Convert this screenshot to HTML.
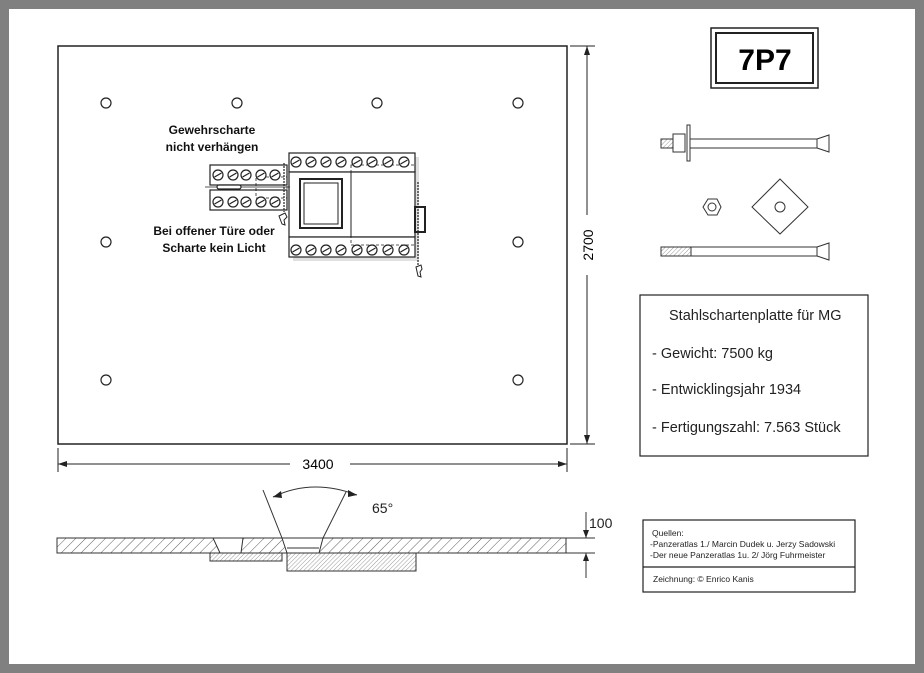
<!DOCTYPE html>
<html><head><meta charset="utf-8"><style>
body{margin:0;width:924px;height:673px;overflow:hidden;background:#808080;}
svg{display:block}
text{font-family:"Liberation Sans",sans-serif;}
</style></head><body>
<svg width="924" height="673" viewBox="0 0 924 673" xmlns="http://www.w3.org/2000/svg">
<defs>
<pattern id="h" width="7" height="7" patternUnits="userSpaceOnUse" patternTransform="rotate(45)">
<line x1="0" y1="0" x2="0" y2="7" stroke="#333" stroke-width="0.8"/></pattern>
<pattern id="h2" width="3" height="3" patternUnits="userSpaceOnUse" patternTransform="rotate(45)">
<line x1="0" y1="0" x2="0" y2="3" stroke="#555" stroke-width="0.6"/></pattern>
<g id="s"><circle r="5" fill="#fff" stroke="#222" stroke-width="1.2"/><line x1="-3.5" y1="2" x2="3.5" y2="-2" stroke="#222" stroke-width="1.2"/></g>
</defs>
<rect x="9" y="9" width="906" height="655" fill="#fff"/>
<!-- plate -->
<rect x="58" y="46" width="509" height="398" fill="#fff" stroke="#222" stroke-width="1.5"/>
<g fill="#fff" stroke="#222" stroke-width="1.2">
<circle cx="106" cy="103" r="5"/><circle cx="237" cy="103" r="5"/><circle cx="377" cy="103" r="5"/><circle cx="518" cy="103" r="5"/>
<circle cx="106" cy="242" r="5"/><circle cx="518" cy="242" r="5"/><circle cx="106" cy="380" r="5"/><circle cx="518" cy="380" r="5"/>
</g>
<!-- dims -->
<g stroke="#222" stroke-width="1">
<line x1="570" y1="46" x2="595" y2="46"/><line x1="570" y1="444" x2="595" y2="444"/>
<line x1="587" y1="46" x2="587" y2="215"/><line x1="587" y1="275" x2="587" y2="444"/>
<line x1="58" y1="448" x2="58" y2="472"/><line x1="567" y1="448" x2="567" y2="472"/>
<line x1="58" y1="464" x2="290" y2="464"/><line x1="350" y1="464" x2="567" y2="464"/>
</g>
<g fill="#222"><polygon points="587,46 584,55 590,55"/><polygon points="587,444 584,435 590,435"/>
<polygon points="58,464 67,461 67,467"/><polygon points="567,464 558,461 558,467"/></g>
<text x="318" y="469" font-size="14" text-anchor="middle">3400</text>
<text transform="translate(593,245) rotate(-90)" font-size="14" text-anchor="middle">2700</text>
<!-- scharte detail -->
<g stroke="#222" stroke-width="1.2" fill="#fff">
<rect x="293" y="157" width="126" height="104" fill="#ccc" stroke="none" opacity="0.6"/>
<rect x="289" y="153" width="126" height="19"/>
<rect x="289" y="172" width="126" height="65"/>
<rect x="289" y="237" width="126" height="20"/>
<rect x="300" y="179" width="42" height="49" stroke-width="2"/>
<rect x="304" y="183" width="34" height="41" stroke-width="1"/>
<line x1="351" y1="172" x2="351" y2="237" stroke-width="1"/>
<rect x="351" y="165" width="64" height="80" fill="none" stroke-dasharray="3,2" stroke-width="0.8"/>
<rect x="415" y="207" width="10" height="25" fill="none" stroke-width="2"/>
<rect x="210" y="165" width="77" height="20"/>
<rect x="210" y="190" width="77" height="20"/>
<line x1="205" y1="187" x2="290" y2="187" stroke-width="0.8"/>
<rect x="217" y="185" width="24" height="4" rx="2"/>
<rect x="256" y="177" width="31" height="21" fill="none" stroke-dasharray="3,2" stroke-width="0.8"/>
<line x1="284" y1="163" x2="284" y2="212" stroke-dasharray="2,1"/>
<line x1="418" y1="182" x2="418" y2="265" stroke-dasharray="2,1"/>
<path d="M279,216 l6,-3 l2,4 l-3,3 l1,5 l-3,-1z" stroke-width="1"/>
<path d="M416,267 l5,-2 l1,4 l-2,3 l1,5 l-3,-1z" stroke-width="1"/>
</g>
<g>
<use href="#s" x="296" y="162"/><use href="#s" x="311" y="162"/><use href="#s" x="326" y="162"/><use href="#s" x="341" y="162"/><use href="#s" x="357" y="162"/><use href="#s" x="372" y="162"/><use href="#s" x="388" y="162"/><use href="#s" x="404" y="162"/>
<use href="#s" x="296" y="250"/><use href="#s" x="311" y="250"/><use href="#s" x="326" y="250"/><use href="#s" x="341" y="250"/><use href="#s" x="357" y="250"/><use href="#s" x="372" y="250"/><use href="#s" x="388" y="250"/><use href="#s" x="404" y="250"/>
<use href="#s" x="218" y="175"/><use href="#s" x="233" y="175"/><use href="#s" x="246" y="175"/><use href="#s" x="261" y="175"/><use href="#s" x="275" y="175"/>
<use href="#s" x="218" y="202"/><use href="#s" x="233" y="202"/><use href="#s" x="246" y="202"/><use href="#s" x="261" y="202"/><use href="#s" x="275" y="202"/>
</g>
<g font-size="12" font-weight="bold" text-anchor="middle" fill="#111">
<text x="212" y="134">Gewehrscharte</text><text x="212" y="151">nicht verhängen</text>
<text x="214" y="235">Bei offener Türe oder</text><text x="214" y="252">Scharte kein Licht</text>
</g>
<!-- 7P7 -->
<rect x="711" y="28" width="107" height="60" fill="#fff" stroke="#222" stroke-width="1.5"/>
<rect x="716" y="33" width="97" height="50" fill="none" stroke="#222" stroke-width="2"/>
<text x="765" y="70" font-size="30" font-weight="bold" text-anchor="middle">7P7</text>
<!-- bolts -->
<g stroke="#333" stroke-width="1" fill="#fff">
<rect x="661" y="139" width="14" height="9" fill="url(#h2)"/>
<rect x="673" y="134" width="12" height="18"/>
<rect x="687" y="125" width="3" height="36"/>
<rect x="690" y="139" width="127" height="9"/>
<polygon points="817,139 829,135 829,152 817,148"/>
<rect x="661" y="247" width="30" height="9" fill="url(#h2)"/>
<rect x="691" y="247" width="126" height="9"/>
<polygon points="817,247 829,243 829,260 817,256"/>
<polygon points="703,207 708,199 717,199 721,207 717,215 708,215"/>
<circle cx="712" cy="207" r="4"/>
<polygon points="780,179 808,207 780,234 752,207"/>
<circle cx="780" cy="207" r="5"/>
</g>
<!-- info -->
<rect x="640" y="295" width="228" height="161" fill="#fff" stroke="#222" stroke-width="1.2"/>
<g font-size="14.5" fill="#222">
<text x="669" y="320">Stahlschartenplatte für MG</text>
<text x="652" y="358">- Gewicht: 7500 kg</text>
<text x="652" y="394">- Entwicklingsjahr 1934</text>
<text x="652" y="432">- Fertigungszahl: 7.563 Stück</text>
</g>
<!-- section -->
<g stroke="#333" stroke-width="1">
<rect x="57" y="538" width="509" height="15" fill="url(#h)"/>
<polygon points="213,538 220,553 241,553 243,538" fill="#fff"/>
<polygon points="282,538 287,553 319,553 323,538" fill="#fff"/>
<line x1="287" y1="548" x2="319" y2="548"/>
<rect x="210" y="553" width="72" height="8" fill="url(#h2)"/>
<rect x="287" y="553" width="129" height="18" fill="url(#h2)"/>
<line x1="282" y1="538" x2="263" y2="490"/><line x1="323" y1="538" x2="346" y2="492"/>
<path d="M273,497 Q312,478 357,495" fill="none"/>
<line x1="566" y1="538" x2="595" y2="538"/><line x1="566" y1="553" x2="595" y2="553"/>
<line x1="586" y1="512" x2="586" y2="538"/><line x1="586" y1="553" x2="586" y2="578"/>
</g>
<g fill="#222"><polygon points="273,497 281,491 282,498"/><polygon points="357,495 348,490 348,497"/>
<polygon points="586,538 583,530 589,530"/><polygon points="586,553 583,561 589,561"/></g>
<text x="372" y="513" font-size="14" fill="#222">65°</text>
<text x="589" y="528" font-size="14" fill="#222">100</text>
<!-- quellen -->
<rect x="643" y="520" width="212" height="72" fill="#fff" stroke="#222" stroke-width="1.2"/>
<line x1="643" y1="567" x2="855" y2="567" stroke="#222" stroke-width="1.2"/>
<g font-size="8.5" fill="#222">
<text x="652" y="536">Quellen:</text>
<text x="650" y="547">-Panzeratlas 1./ Marcin Dudek u. Jerzy Sadowski</text>
<text x="650" y="558">-Der neue Panzeratlas 1u. 2/ Jörg Fuhrmeister</text>
<text x="653" y="582">Zeichnung: © Enrico Kanis</text>
</g>
</svg>
</body></html>
